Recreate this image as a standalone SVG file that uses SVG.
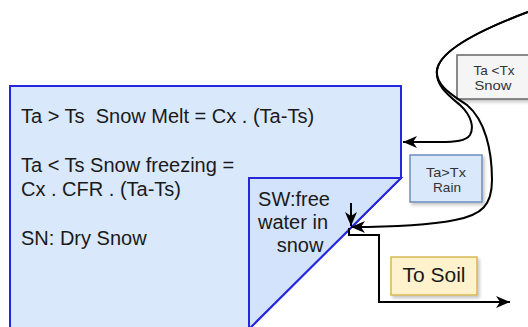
<svg xmlns="http://www.w3.org/2000/svg" width="528" height="327" viewBox="0 0 528 327">
  <defs>
    <style>
      .t { font-family: "Liberation Sans", Arial, sans-serif; fill: #1a1a1a; white-space: pre; }
      .big { font-size: 20px; }
      .small { font-size: 13.5px; fill: #333; }
      .soil { font-size: 21px; }
      .edge { fill: none; stroke: #000; stroke-width: 2; }
      .store { stroke: #2626dc; stroke-width: 2; stroke-linejoin: miter; }
    </style>
    <filter id="shadow" x="-10%" y="-10%" width="130%" height="140%">
      <feDropShadow dx="2" dy="2.5" stdDeviation="1.5" flood-color="#000" flood-opacity="0.22"/>
    </filter>
    <marker id="arrow" viewBox="0 0 14 12" refX="14" refY="6" markerWidth="14" markerHeight="12" markerUnits="userSpaceOnUse" orient="auto">
      <path d="M0,0 L14,6 L0,12 L4,6 Z" fill="#000"/>
    </marker>
  </defs>

  <!-- snow pack store -->
  <g id="snowpack">
    <polygon class="store" points="10,86 401,86 401,178 249,329 10,329" fill="#dae8fc"/>
    <text class="t big" x="21" y="123" xml:space="preserve">Ta &gt; Ts  Snow Melt = Cx . (Ta-Ts)</text>
    <text class="t big" x="21" y="172">Ta &lt; Ts Snow freezing =</text>
    <text class="t big" x="21" y="196">Cx . CFR . (Ta-Ts)</text>
    <text class="t big" x="21" y="245">SN: Dry Snow</text>
  </g>

  <!-- free water store -->
  <g id="freewater">
    <polygon class="store" points="249,178 401,178 249,329" fill="#d3e3fb"/>
    <text class="t big" x="294" y="206" text-anchor="middle">SW:free</text>
    <text class="t big" x="293" y="229" text-anchor="middle">water in</text>
    <text class="t big" x="300" y="252" text-anchor="middle">snow</text>
  </g>

  <!-- precipitation labels -->
  <g id="snowlabel">
    <rect x="457" y="55" width="80" height="44" fill="#f5f5f5" stroke="#666" stroke-width="1.5" filter="url(#shadow)"/>
    <text class="t small" x="494" y="75" text-anchor="middle" textLength="41" lengthAdjust="spacingAndGlyphs">Ta &lt;Tx</text>
    <text class="t small" x="493" y="90" text-anchor="middle" textLength="37" lengthAdjust="spacingAndGlyphs">Snow</text>
  </g>

  <g id="rainlabel">
    <rect x="410" y="155" width="72" height="47" fill="#dae8fc" stroke="#6c8ebf" stroke-width="1.5" filter="url(#shadow)"/>
    <text class="t small" x="446" y="177" text-anchor="middle" textLength="40" lengthAdjust="spacingAndGlyphs">Ta&gt;Tx</text>
    <text class="t small" x="447" y="192" text-anchor="middle" textLength="28" lengthAdjust="spacingAndGlyphs">Rain</text>
  </g>

  <g id="soillabel">
    <rect x="391" y="257" width="86" height="38" fill="#fff2cc" stroke="#d6b656" stroke-width="1.5" filter="url(#shadow)"/>
    <text class="t soil" x="434" y="282" text-anchor="middle">To Soil</text>
  </g>

  <!-- connectors -->
  <g id="connectors">
    <path class="edge" d="M 528,12 C 480,30 440,50 437,70 C 435,85 448,95 460,105 C 472,116 474,128 470,135 C 466,141 455,142 440,142 L 403,142" marker-end="url(#arrow)"/>
    <path class="edge" d="M 528,12 C 480,30 440,50 437,70 C 435,85 452,95 467,105 C 485,120 492,150 492,180 C 492,205 482,215 455,220 C 430,225 400,227 351,227" marker-end="url(#arrow)"/>
    <path class="edge" d="M 351,203 L 351,226" marker-end="url(#arrow)"/>
    <path class="edge" d="M 349,228 L 349,235 L 379,235 L 379,302 L 510,302" marker-end="url(#arrow)"/>
  </g>
</svg>
